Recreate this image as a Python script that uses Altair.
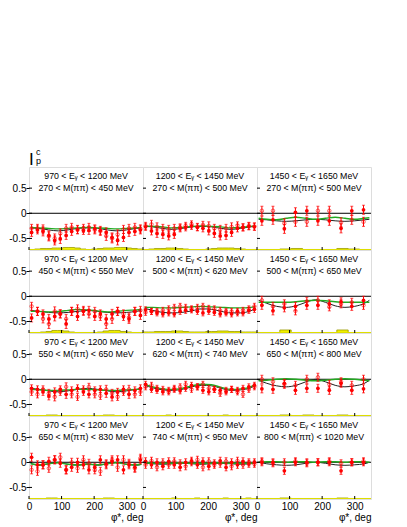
import altair as alt
import pandas as pd

W, H = 114, 83
XDOM = [0, 350]
YDOM = [-0.73, 0.92]
BASE = -0.73
FONT = "Liberation Sans"

PHI20 = [8, 26, 43, 61, 79, 96, 114, 131, 149, 167, 184, 202, 219, 237, 255, 272, 290, 307, 325, 342]
PHI10 = [15, 49, 84, 118, 153, 187, 222, 258, 291, 327]
CURVE_PHI = [5, 30, 60, 90, 120, 150, 180, 210, 240, 270, 300, 330, 345]
EDGES20 = [0, 17.5, 35, 52.5, 70, 87.5, 105, 122.5, 140, 157.5, 175, 192.5, 210, 227.5, 245, 262.5, 280, 297.5, 315, 332.5, 350]
EDGES10 = [0, 35, 70, 105, 140, 175, 210, 245, 280, 315, 350]

EG_LABELS = ["970 < E\u1d67 < 1200 MeV", "1200 < E\u1d67 < 1450 MeV", "1450 < E\u1d67 < 1650 MeV"]
M_LABELS = [
    ["270 < M(\u03c0\u03c0) < 450 MeV", "270 < M(\u03c0\u03c0) < 500 MeV", "270 < M(\u03c0\u03c0) < 500 MeV"],
    ["450 < M(\u03c0\u03c0) < 550 MeV", "500 < M(\u03c0\u03c0) < 620 MeV", "500 < M(\u03c0\u03c0) < 650 MeV"],
    ["550 < M(\u03c0\u03c0) < 650 MeV", "620 < M(\u03c0\u03c0) < 740 MeV", "650 < M(\u03c0\u03c0) < 800 MeV"],
    ["650 < M(\u03c0\u03c0) < 830 MeV", "740 < M(\u03c0\u03c0) < 950 MeV", "800 < M(\u03c0\u03c0) < 1020 MeV"],
]

# ---- row 1 ----
FILLED_11 = [-0.38, -0.33, -0.36, -0.44, -0.54, -0.51, -0.44, -0.36, -0.33, -0.34, -0.34, -0.31, -0.34, -0.38, -0.48, -0.54, -0.48, -0.38, -0.36, -0.33]
OPEN_11 = [-0.30, -0.30, -0.32, -0.46, -0.50, -0.40, -0.30, -0.28, -0.32, -0.30, -0.28, -0.33, -0.36, -0.45, -0.50, -0.42, -0.32, -0.30, -0.28, -0.31]
ERR_11 = [0.08, 0.08, 0.09, 0.09, 0.09, 0.09, 0.08, 0.08, 0.08, 0.08, 0.08, 0.08, 0.08, 0.09, 0.09, 0.09, 0.08, 0.08, 0.08, 0.08]
BLACK_11 = [-0.29, -0.30, -0.33, -0.35, -0.33, -0.30, -0.29, -0.30, -0.33, -0.35, -0.33, -0.30, -0.29]
GREEN_11 = [-0.28, -0.29, -0.30, -0.31, -0.30, -0.29, -0.28, -0.29, -0.30, -0.31, -0.30, -0.29, -0.28]
SYS_11 = [0.01, 0.02, 0.03, 0.03, 0.04, 0.04, 0.05, 0.05, 0.04, 0.02, 0.01, 0.02, 0.03, 0.04, 0.04, 0.05, 0.05, 0.04, 0.03, 0.02]

FILLED_12 = [-0.27, -0.35, -0.40, -0.42, -0.45, -0.42, -0.30, -0.28, -0.25, -0.28, -0.30, -0.35, -0.40, -0.45, -0.44, -0.38, -0.30, -0.28, -0.26, -0.27]
OPEN_12 = [-0.25, -0.22, -0.27, -0.30, -0.32, -0.30, -0.28, -0.25, -0.22, -0.27, -0.23, -0.25, -0.30, -0.32, -0.30, -0.27, -0.24, -0.28, -0.25, -0.26]
ERR_12 = [0.07, 0.08, 0.08, 0.08, 0.08, 0.08, 0.07, 0.07, 0.07, 0.07, 0.07, 0.08, 0.08, 0.08, 0.08, 0.08, 0.07, 0.07, 0.07, 0.07]
BLACK_12 = [-0.26, -0.27, -0.30, -0.32, -0.30, -0.27, -0.26, -0.27, -0.30, -0.32, -0.30, -0.27, -0.26]
GREEN_12 = [-0.25, -0.26, -0.27, -0.29, -0.28, -0.26, -0.25, -0.26, -0.27, -0.29, -0.28, -0.26, -0.25]
SYS_12 = [0.01, 0.02, 0.03, 0.03, 0.04, 0.04, 0.03, 0.02, 0.01, 0.01, 0.01, 0.02, 0.03, 0.04, 0.04, 0.04, 0.03, 0.02, 0.01, 0.01]

FILLED_13 = [-0.15, -0.13, -0.31, 0.02, 0.05, -0.15, -0.15, -0.30, 0.05, 0.07]
OPEN_13 = [0.05, 0.05, -0.20, -0.17, -0.17, 0.05, 0.05, -0.18, -0.13, -0.17]
ERR_13 = [0.09, 0.09, 0.09, 0.09, 0.09, 0.09, 0.09, 0.09, 0.09, 0.09]
BLACK_13 = [-0.12, -0.13, -0.15, -0.16, -0.15, -0.13, -0.12, -0.13, -0.15, -0.16, -0.15, -0.13, -0.12]
GREEN_13 = [-0.10, -0.12, -0.13, -0.10, -0.08, -0.10, -0.12, -0.10, -0.08, -0.10, -0.12, -0.10, -0.09]
SYS_13 = [0.01, 0.01, 0.02, 0.03, 0.01, 0.01, 0.01, 0.03, 0.02, 0.01]

# ---- row 2 ----
FILLED_21 = [-0.43, -0.30, -0.35, -0.45, -0.40, -0.35, -0.55, -0.30, -0.40, -0.30, -0.28, -0.40, -0.35, -0.45, -0.35, -0.30, -0.40, -0.45, -0.30, -0.38]
OPEN_21 = [-0.20, -0.30, -0.45, -0.55, -0.30, -0.35, -0.45, -0.30, -0.25, -0.28, -0.35, -0.30, -0.40, -0.55, -0.45, -0.30, -0.35, -0.42, -0.30, -0.28]
ERR_21 = [0.08, 0.08, 0.08, 0.09, 0.09, 0.08, 0.09, 0.08, 0.08, 0.08, 0.08, 0.08, 0.08, 0.09, 0.09, 0.08, 0.08, 0.09, 0.08, 0.08]
BLACK_21 = [-0.28, -0.30, -0.32, -0.33, -0.32, -0.30, -0.28, -0.30, -0.32, -0.33, -0.32, -0.30, -0.28]
GREEN_21 = [-0.30, -0.30, -0.31, -0.30, -0.28, -0.26, -0.27, -0.29, -0.31, -0.30, -0.28, -0.27, -0.26]
SYS_21 = [0.01, 0.01, 0.02, 0.03, 0.05, 0.05, 0.04, 0.02, 0.01, 0.01, 0.01, 0.01, 0.02, 0.04, 0.05, 0.05, 0.03, 0.02, 0.01, 0.01]

FILLED_22 = [-0.27, -0.30, -0.33, -0.35, -0.33, -0.35, -0.30, -0.28, -0.27, -0.30, -0.33, -0.30, -0.32, -0.35, -0.33, -0.35, -0.30, -0.33, -0.28, -0.26]
OPEN_22 = [-0.32, -0.30, -0.30, -0.28, -0.25, -0.22, -0.20, -0.22, -0.25, -0.22, -0.20, -0.24, -0.25, -0.28, -0.30, -0.30, -0.33, -0.28, -0.25, -0.20]
ERR_22 = [0.06, 0.06, 0.06, 0.06, 0.06, 0.06, 0.06, 0.06, 0.06, 0.06, 0.06, 0.06, 0.06, 0.06, 0.06, 0.06, 0.06, 0.06, 0.06, 0.06]
BLACK_22 = [-0.24, -0.28, -0.32, -0.33, -0.32, -0.29, -0.25, -0.26, -0.30, -0.33, -0.33, -0.29, -0.25]
GREEN_22 = [-0.22, -0.22, -0.23, -0.23, -0.22, -0.21, -0.20, -0.21, -0.22, -0.23, -0.23, -0.22, -0.21]
SYS_22 = [0.02, 0.02, 0.03, 0.03, 0.03, 0.04, 0.04, 0.03, 0.02, 0.02, 0.02, 0.03, 0.03, 0.04, 0.04, 0.03, 0.03, 0.02, 0.02, 0.02]

FILLED_23 = [-0.18, -0.29, -0.23, -0.20, -0.18, -0.18, -0.15, -0.11, -0.20, -0.08]
OPEN_23 = [-0.08, -0.20, -0.15, -0.29, -0.10, -0.08, -0.21, -0.15, -0.12, -0.18]
ERR_23 = [0.08, 0.08, 0.08, 0.08, 0.08, 0.08, 0.08, 0.08, 0.08, 0.08]
BLACK_23 = [-0.08, -0.14, -0.20, -0.22, -0.19, -0.12, -0.07, -0.12, -0.19, -0.22, -0.20, -0.14, -0.08]
GREEN_23 = [-0.12, -0.12, -0.12, -0.12, -0.11, -0.09, -0.08, -0.09, -0.11, -0.12, -0.12, -0.12, -0.12]
SYS_23 = [0.01, 0.01, 0.06, 0.01, 0.01, 0.01, 0.01, 0.06, 0.01, 0.01]

# ---- row 3 ----
FILLED_31 = [-0.18, -0.20, -0.25, -0.33, -0.25, -0.20, -0.30, -0.22, -0.18, -0.25, -0.30, -0.22, -0.20, -0.28, -0.35, -0.25, -0.20, -0.30, -0.22, -0.18]
OPEN_31 = [-0.25, -0.30, -0.20, -0.28, -0.35, -0.25, -0.15, -0.30, -0.35, -0.20, -0.15, -0.30, -0.33, -0.20, -0.28, -0.35, -0.25, -0.20, -0.30, -0.25]
ERR_31 = [0.07, 0.07, 0.07, 0.08, 0.08, 0.07, 0.08, 0.07, 0.07, 0.07, 0.07, 0.07, 0.07, 0.08, 0.08, 0.07, 0.07, 0.08, 0.07, 0.07]
BLACK_31 = [-0.18, -0.20, -0.23, -0.25, -0.23, -0.20, -0.18, -0.20, -0.23, -0.25, -0.23, -0.20, -0.18]
GREEN_31 = [-0.20, -0.21, -0.22, -0.22, -0.21, -0.20, -0.20, -0.21, -0.22, -0.22, -0.21, -0.20, -0.20]
SYS_31 = [0.01, 0.01, 0.01, 0.02, 0.02, 0.01, 0.01, 0.01, 0.01, 0.01, 0.01, 0.01, 0.01, 0.02, 0.02, 0.01, 0.01, 0.01, 0.01, 0.01]

FILLED_32 = [-0.10, -0.20, -0.22, -0.25, -0.22, -0.20, -0.23, -0.18, -0.12, -0.15, -0.22, -0.25, -0.20, -0.22, -0.25, -0.20, -0.22, -0.18, -0.15, -0.12]
OPEN_32 = [-0.15, -0.12, -0.18, -0.20, -0.25, -0.18, -0.15, -0.10, -0.20, -0.15, -0.10, -0.18, -0.20, -0.28, -0.22, -0.20, -0.25, -0.30, -0.20, -0.15]
ERR_32 = [0.06, 0.06, 0.06, 0.06, 0.06, 0.06, 0.06, 0.06, 0.06, 0.06, 0.06, 0.06, 0.06, 0.06, 0.06, 0.06, 0.06, 0.06, 0.06, 0.06]
BLACK_32 = [-0.12, -0.17, -0.21, -0.22, -0.20, -0.15, -0.12, -0.13, -0.18, -0.22, -0.21, -0.17, -0.12]
GREEN_32 = [-0.10, -0.15, -0.19, -0.20, -0.18, -0.13, -0.10, -0.11, -0.16, -0.20, -0.19, -0.15, -0.10]
SYS_32 = [0.01, 0.01, 0.01, 0.01, 0.02, 0.01, 0.01, 0.01, 0.01, 0.01, 0.01, 0.01, 0.01, 0.01, 0.02, 0.01, 0.01, 0.01, 0.01, 0.01]

FILLED_33 = [-0.19, -0.20, -0.08, -0.22, -0.18, -0.18, -0.22, -0.08, -0.22, -0.19]
OPEN_33 = [0.00, -0.05, -0.10, -0.12, 0.00, 0.04, -0.10, -0.05, -0.12, 0.00]
ERR_33 = [0.08, 0.08, 0.08, 0.08, 0.08, 0.08, 0.08, 0.08, 0.08, 0.08]
BLACK_33 = [-0.02, -0.08, -0.13, -0.15, -0.12, -0.05, 0.00, -0.05, -0.12, -0.15, -0.13, -0.08, -0.02]
GREEN_33 = [-0.03, -0.02, 0.00, 0.01, 0.00, -0.02, -0.03, -0.02, 0.00, 0.01, 0.00, -0.02, -0.03]
SYS_33 = [0.01, 0.01, 0.02, 0.01, 0.02, 0.01, 0.01, 0.02, 0.01, 0.01]

# ---- row 4 ----
FILLED_41 = [0.10, -0.05, -0.05, 0.02, 0.05, -0.02, -0.15, -0.10, 0.00, -0.05, -0.15, -0.10, 0.05, -0.03, 0.02, 0.05, -0.15, -0.05, -0.10, 0.05]
OPEN_41 = [-0.15, -0.18, -0.05, -0.12, 0.05, 0.10, -0.15, 0.00, -0.12, 0.05, -0.02, -0.15, -0.18, -0.05, 0.05, -0.10, 0.05, -0.02, -0.12, 0.08]
ERR_41 = [0.08, 0.08, 0.08, 0.08, 0.08, 0.08, 0.08, 0.08, 0.08, 0.08, 0.08, 0.08, 0.08, 0.08, 0.08, 0.08, 0.08, 0.08, 0.08, 0.08]
BLACK_41 = [-0.02, -0.06, -0.03, 0.00, -0.04, -0.06, -0.03, -0.06, -0.03, 0.00, -0.04, -0.06, -0.04]
GREEN_41 = [-0.03, -0.05, -0.03, -0.01, -0.04, -0.05, -0.04, -0.05, -0.03, -0.01, -0.04, -0.05, -0.04]
SYS_41 = [0.01, 0.01, 0.01, 0.02, 0.02, 0.01, 0.01, 0.01, 0.01, 0.01, 0.01, 0.01, 0.01, 0.02, 0.02, 0.01, 0.01, 0.01, 0.01, 0.01]

FILLED_42 = [0.02, -0.05, 0.00, -0.08, 0.02, -0.05, -0.10, 0.00, 0.03, -0.05, 0.02, -0.08, -0.02, 0.03, -0.10, 0.00, -0.05, 0.02, -0.03, 0.00]
OPEN_42 = [-0.05, 0.03, -0.10, 0.00, -0.05, 0.02, -0.02, -0.08, 0.00, 0.05, -0.10, 0.02, -0.05, -0.03, 0.02, -0.08, 0.03, -0.05, 0.00, -0.03]
ERR_42 = [0.07, 0.07, 0.07, 0.07, 0.07, 0.07, 0.07, 0.07, 0.07, 0.07, 0.07, 0.07, 0.07, 0.07, 0.07, 0.07, 0.07, 0.07, 0.07, 0.07]
BLACK_42 = [-0.02, -0.03, -0.04, -0.03, -0.02, -0.03, -0.04, -0.03, -0.02, -0.03, -0.04, -0.03, -0.02]
GREEN_42 = [-0.01, -0.02, -0.02, -0.02, -0.01, -0.02, -0.02, -0.02, -0.01, -0.02, -0.02, -0.02, -0.01]
SYS_42 = [0.01, 0.01, 0.01, 0.01, 0.01, 0.02, 0.01, 0.01, 0.01, 0.02, 0.01, 0.01, 0.01, 0.01, 0.02, 0.01, 0.01, 0.01, 0.02, 0.01]

FILLED_43 = [0.00, 0.00, -0.17, 0.00, 0.00, 0.00, 0.00, -0.17, 0.00, 0.00]
OPEN_43 = [0.02, -0.02, 0.00, 0.02, -0.02, 0.00, 0.02, -0.02, 0.00, 0.02]
ERR_43 = [0.07, 0.07, 0.07, 0.07, 0.07, 0.07, 0.07, 0.07, 0.07, 0.07]
BLACK_43 = [0.00, -0.03, -0.05, -0.06, -0.05, -0.02, 0.00, -0.02, -0.05, -0.06, -0.05, -0.03, 0.00]
GREEN_43 = [0.00, 0.01, 0.01, 0.00, 0.01, 0.01, 0.00, 0.01, 0.01, 0.00, 0.01, 0.01, 0.00]
SYS_43 = [0.01, 0.01, 0.02, 0.01, 0.01, 0.01, 0.01, 0.02, 0.01, 0.01]

YTICKS_MAJOR = [-0.5, 0, 0.5]
XTICKS_MAJOR = [0, 100, 200, 300]

PANEL_DATA = {
    (0, 0): (FILLED_11, OPEN_11, ERR_11, BLACK_11, GREEN_11, SYS_11),
    (0, 1): (FILLED_12, OPEN_12, ERR_12, BLACK_12, GREEN_12, SYS_12),
    (0, 2): (FILLED_13, OPEN_13, ERR_13, BLACK_13, GREEN_13, SYS_13),
    (1, 0): (FILLED_21, OPEN_21, ERR_21, BLACK_21, GREEN_21, SYS_21),
    (1, 1): (FILLED_22, OPEN_22, ERR_22, BLACK_22, GREEN_22, SYS_22),
    (1, 2): (FILLED_23, OPEN_23, ERR_23, BLACK_23, GREEN_23, SYS_23),
    (2, 0): (FILLED_31, OPEN_31, ERR_31, BLACK_31, GREEN_31, SYS_31),
    (2, 1): (FILLED_32, OPEN_32, ERR_32, BLACK_32, GREEN_32, SYS_32),
    (2, 2): (FILLED_33, OPEN_33, ERR_33, BLACK_33, GREEN_33, SYS_33),
    (3, 0): (FILLED_41, OPEN_41, ERR_41, BLACK_41, GREEN_41, SYS_41),
    (3, 1): (FILLED_42, OPEN_42, ERR_42, BLACK_42, GREEN_42, SYS_42),
    (3, 2): (FILLED_43, OPEN_43, ERR_43, BLACK_43, GREEN_43, SYS_43),
}

xscale = alt.Scale(domain=XDOM, nice=False, zero=False)
yscale = alt.Scale(domain=YDOM, nice=False, zero=False)

RED = "#ff0000"


def make_panel(r, c):
    filled, opn, err, black, green, sys = PANEL_DATA[(r, c)]
    phi = PHI20 if c < 2 else PHI10
    edges = EDGES20 if c < 2 else EDGES10

    if r == 3:
        xaxis = alt.Axis(values=XTICKS_MAJOR, labelFontSize=10, labelFont=FONT, labelColor="black",
                         ticks=False, domain=False, grid=False, labelPadding=2, labelFlush=False,
                         labelOverlap=False, title="\u03c6*, deg", titleFont=FONT, titleFontSize=10,
                         titleFontWeight="normal", titleColor="black", titleAnchor="end", titlePadding=1)
    else:
        xaxis = None
    if c == 0:
        yaxis = alt.Axis(values=YTICKS_MAJOR, labelFontSize=10, labelFont=FONT, labelColor="black",
                         tickSize=3, tickColor="black", domain=False, grid=False, labelPadding=0,
                         title=None, labelFlush=False,
                         labelExpr="datum.value == 0 ? '0' : (datum.value < 0 ? '-' + format(-datum.value, '.1f') : format(datum.value, '.1f'))")
    else:
        yaxis = None

    def X(f):
        return alt.X(f, type="quantitative", scale=xscale, axis=xaxis)

    def Y(f):
        return alt.Y(f, type="quantitative", scale=yscale, axis=yaxis)

    pts = pd.DataFrame({
        "phi": phi * 2,
        "v": filled + opn,
        "err": err + err,
        "kind": ["f"] * len(phi) + ["o"] * len(phi),
    })
    pts["lo"] = pts["v"] - pts["err"]
    pts["hi"] = pts["v"] + pts["err"]
    fdf = pts[pts.kind == "f"]
    odf = pts[pts.kind == "o"]

    sysdf = pd.DataFrame({"phi": edges, "top": [BASE + h for h in sys] + [BASE + sys[-1]], "base": BASE})
    curves = pd.DataFrame({"phi": CURVE_PHI * 2, "v": black + green,
                           "curve": ["black"] * len(CURVE_PHI) + ["green"] * len(CURVE_PHI)})

    layers = []
    layers.append(alt.Chart(sysdf).mark_area(interpolate="step-after", color="#f0f000", opacity=1, clip=True,
                                             line={"color": "#9c9c00", "strokeWidth": 0.8}).encode(
        x=X("phi"), y=Y("top"), y2="base"))
    layers.append(alt.Chart(pd.DataFrame({"v": [BASE]})).mark_rule(color="#dede00", strokeWidth=2, clip=True).encode(
        y=Y("v"), x=alt.value(0), x2=alt.value(W)))
    layers.append(alt.Chart(pd.DataFrame({"v": [0]})).mark_rule(color="black", strokeWidth=1).encode(
        y=Y("v"), x=alt.value(0), x2=alt.value(W)))
    layers.append(alt.Chart(curves[curves.curve == "black"]).mark_line(
        color="#222222", strokeWidth=1, interpolate="monotone", clip=True).encode(x=X("phi"), y=Y("v")))
    layers.append(alt.Chart(curves[curves.curve == "green"]).mark_line(
        color="#22aa22", strokeWidth=1.4, interpolate="monotone", clip=True).encode(x=X("phi"), y=Y("v")))
    layers.append(alt.Chart(pts).mark_rule(color=RED, strokeWidth=1, clip=True).encode(
        x=X("phi"), y=Y("lo"), y2="hi"))
    layers.append(alt.Chart(pts).mark_tick(color=RED, orient="horizontal", size=3, thickness=1, clip=True).encode(
        x=X("phi"), y=Y("lo")))
    layers.append(alt.Chart(pts).mark_tick(color=RED, orient="horizontal", size=3, thickness=1, clip=True).encode(
        x=X("phi"), y=Y("hi")))
    layers.append(alt.Chart(odf).mark_point(shape="circle", filled=False, size=12, color=RED,
                                            strokeWidth=0.9, clip=True).encode(x=X("phi"), y=Y("v")))
    layers.append(alt.Chart(fdf).mark_point(shape="circle", filled=True, size=14, color=RED,
                                            opacity=1, clip=True).encode(x=X("phi"), y=Y("v")))
    # inner ticks
    layers.append(alt.Chart(pd.DataFrame({"v": YTICKS_MAJOR})).mark_rule(color="black", strokeWidth=1).encode(
        y=Y("v"), x=alt.value(0), x2=alt.value(3)))
    layers.append(alt.Chart(pd.DataFrame({"p": XTICKS_MAJOR})).mark_rule(color="black", strokeWidth=1).encode(
        x=X("p"), y=alt.value(H), y2=alt.value(H - 3)))
    # labels
    layers.append(alt.Chart(pd.DataFrame({"t": [EG_LABELS[c]]})).mark_text(
        font=FONT, fontSize=8.8, color="black", align="center", baseline="middle").encode(
        text="t:N", x=alt.value(W / 2), y=alt.value(9)))
    layers.append(alt.Chart(pd.DataFrame({"t": [M_LABELS[r][c]]})).mark_text(
        font=FONT, fontSize=8.8, color="black", align="center", baseline="middle").encode(
        text="t:N", x=alt.value(W / 2), y=alt.value(21)))
    if r == 0 and c == 0:
        layers.append(alt.Chart(pd.DataFrame({"t": ["I"]})).mark_text(
            font=FONT, fontSize=17, color="black", align="left", baseline="alphabetic").encode(
            text="t:N", x=alt.value(0), y=alt.value(-2)))
        layers.append(alt.Chart(pd.DataFrame({"t": ["c"]})).mark_text(
            font=FONT, fontSize=9, color="black", align="left", baseline="alphabetic").encode(
            text="t:N", x=alt.value(7), y=alt.value(-12)))
        layers.append(alt.Chart(pd.DataFrame({"t": ["p"]})).mark_text(
            font=FONT, fontSize=9, color="black", align="left", baseline="alphabetic").encode(
            text="t:N", x=alt.value(7), y=alt.value(-3)))
    return alt.layer(*layers).properties(width=W, height=H)


panels = [make_panel(r, c) for r in range(4) for c in range(3)]

chart = alt.concat(*panels, columns=3, spacing=0, bounds="flush").properties(
    padding={"left": 0, "top": 139, "right": 5, "bottom": 0}
).configure_view(stroke="black", strokeWidth=1).configure(background="white")

chart.save("out.html", embed_options={"renderer": "svg", "actions": False})
